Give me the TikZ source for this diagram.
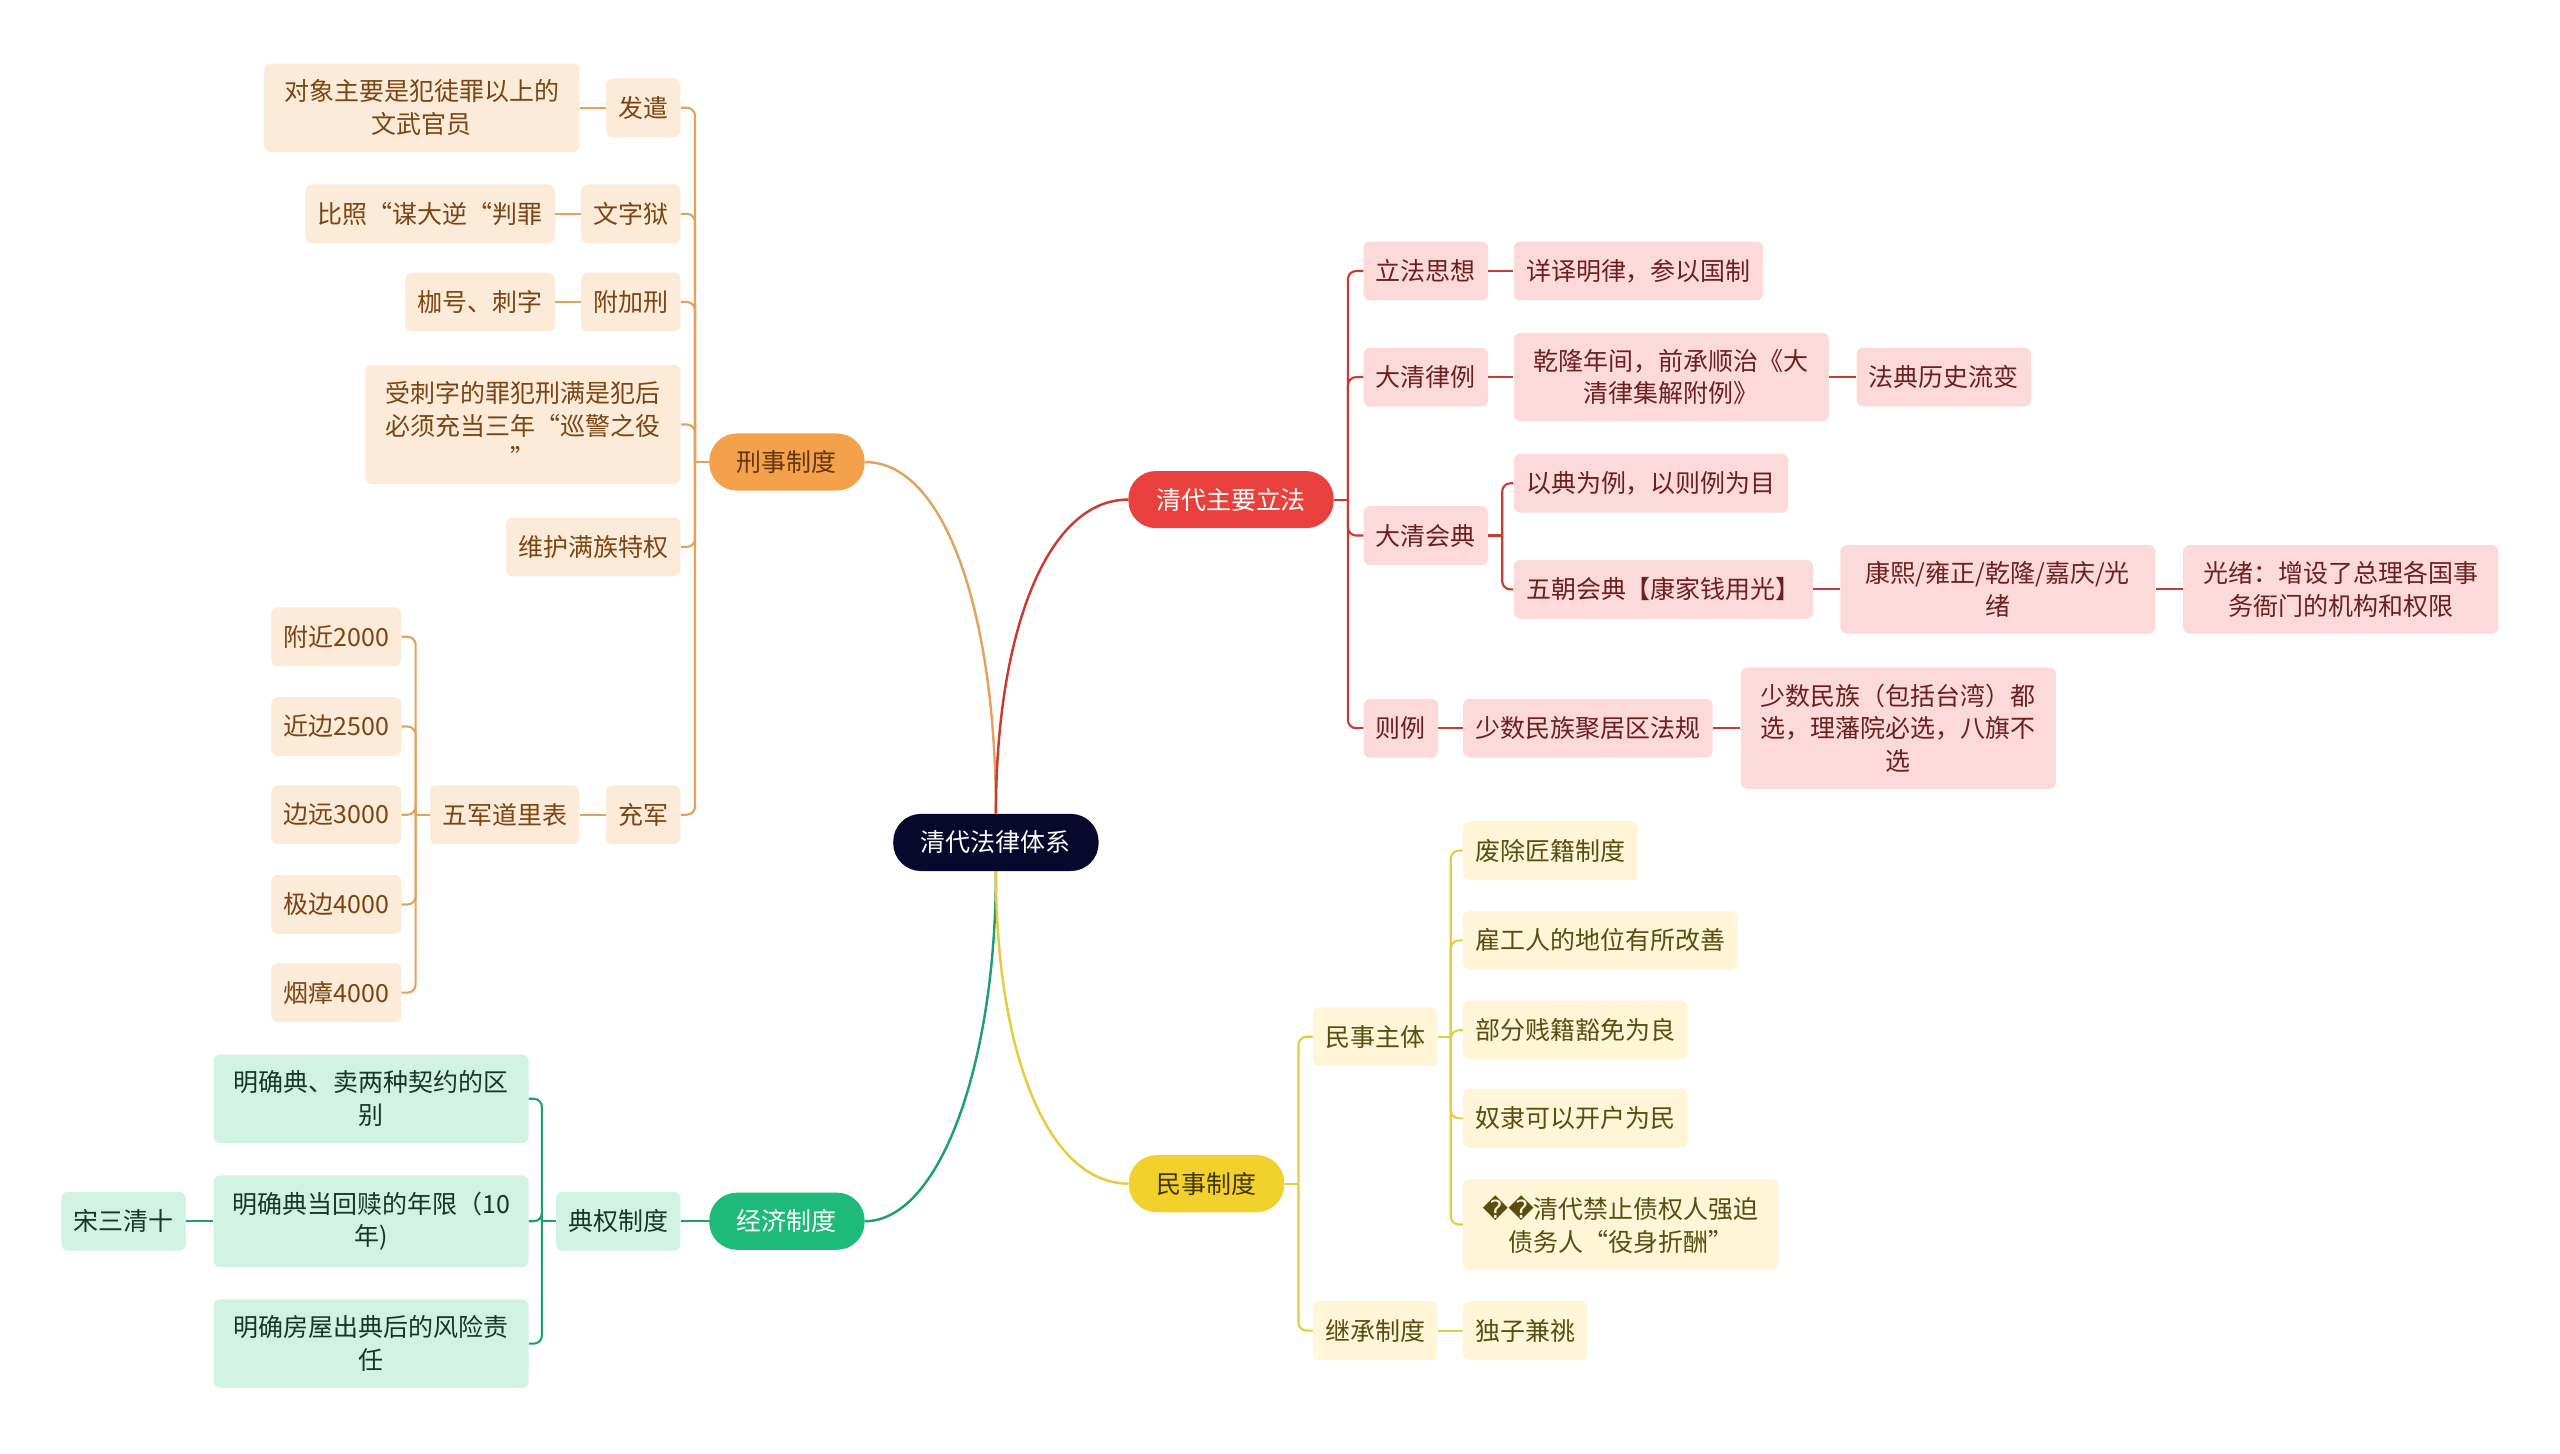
\documentclass[tikz,border=0pt]{standalone}
\usepackage{fontspec}
\setmainfont{Noto Sans CJK SC}
\newfontfamily\symfont{DejaVu Sans}
\usepackage{xcolor}
\usepackage{tikz}
\usetikzlibrary{positioning}

\definecolor{rootbg}{HTML}{08072C}
\definecolor{xsmain}{HTML}{F3A24B}
\definecolor{xsline}{HTML}{E6A25C}
\definecolor{xsfill}{HTML}{FDEBDA}
\definecolor{xstext}{HTML}{7A4512}
\definecolor{lfmain}{HTML}{E8413D}
\definecolor{lfline}{HTML}{C93A33}
\definecolor{lffill}{HTML}{FDDADA}
\definecolor{lftext}{HTML}{6A2020}
\definecolor{msmain}{HTML}{F2D12C}
\definecolor{msline}{HTML}{E9CB3C}
\definecolor{msfill}{HTML}{FEF6D6}
\definecolor{mstext}{HTML}{5A4C12}
\definecolor{jjmain}{HTML}{1DBA7A}
\definecolor{jjline}{HTML}{1E9F6B}
\definecolor{jjfill}{HTML}{D2F2E4}
\definecolor{jjtext}{HTML}{173627}

\newcommand{\nodefont}{\fontsize{15.3}{20}\selectfont}

\begin{document}
\begin{tikzpicture}[x=1pt,y=-1pt,every node/.style={font=\nodefont,align=center},
  leaf/.style={rounded corners=4pt,inner xsep=7.5pt,inner ysep=10pt,minimum height=36pt},
  wide/.style={minimum width=193pt},
  pill/.style={rounded corners=17pt,inner xsep=17pt,inner ysep=10pt,minimum height=35pt},
  xsleaf/.style={leaf,fill=xsfill,text=xstext},
  lfleaf/.style={leaf,fill=lffill,text=lftext},
  msleaf/.style={leaf,fill=msfill,text=mstext},
  jjleaf/.style={leaf,fill=jjfill,text=jjtext},
  xsedge/.style={draw=xsline,line width=1.3pt,rounded corners=5pt},
  lfedge/.style={draw=lfline,line width=1.3pt,rounded corners=5pt},
  msedge/.style={draw=msline,line width=1.3pt,rounded corners=5pt},
  jjedge/.style={draw=jjline,line width=1.3pt,rounded corners=5pt}]

\useasboundingbox[fill=white] (0,0) rectangle (1568,890);

% Root and main branches
\node[pill,fill=rootbg,text=white] (root) at (610,516) {清代法律体系};
\node[pill,fill=xsmain,text=xstext!80!black] (xs) at (482,283) {刑事制度};
\node[pill,fill=lfmain,text=white] (lf) at (754,306) {清代主要立法};
\node[pill,fill=jjmain,text=white] (jj) at (482,748) {经济制度};
\node[pill,fill=msmain,text=mstext!70!black] (ms) at (739,725) {民事制度};

\draw[xsline,line width=1.5pt] (root.north) .. controls +(0,-120) and +(50,0) .. (xs.east);
\draw[lfline,line width=1.5pt] (root.north) .. controls +(0,-110) and +(-50,0) .. (lf.west);
\draw[jjline,line width=1.5pt] (root.south) .. controls +(0,120) and +(45,0) .. (jj.east);
\draw[msline,line width=1.5pt] (root.south) .. controls +(0,110) and +(-50,0) .. (ms.west);

% 刑事制度
\node[xsleaf,anchor=east] (fq) at (417,66) {发遣};
\node[xsleaf,wide,anchor=east] (fqa) at (355,66) {对象主要是犯徒罪以上的\\文武官员};
\node[xsleaf,anchor=east] (wzy) at (417,131) {文字狱};
\node[xsleaf,anchor=east] (wzya) at (340,131) {比照“谋大逆“判罪};
\node[xsleaf,anchor=east] (fjx) at (417,185) {附加刑};
\node[xsleaf,anchor=east] (fjxa) at (340,185) {枷号、刺字};
\node[xsleaf,wide,anchor=east] (csz) at (417,260) {受刺字的罪犯刑满是犯后\\必须充当三年“巡警之役\\”};
\node[xsleaf,anchor=east] (whmz) at (417,335) {维护满族特权};
\node[xsleaf,anchor=east] (cj) at (417,499) {充军};
\node[xsleaf,anchor=east] (wjdl) at (355,499) {五军道里表};
\node[xsleaf,anchor=east] (lc1) at (246,390) {附近2000};
\node[xsleaf,anchor=east] (lc2) at (246,445) {近边2500};
\node[xsleaf,anchor=east] (lc3) at (246,499) {边远3000};
\node[xsleaf,anchor=east] (lc4) at (246,554) {极边4000};
\node[xsleaf,anchor=east] (lc5) at (246,608) {烟瘴4000};

\coordinate (xsj) at ([xshift=-8.5pt]xs.west);
\coordinate (wjj) at ([xshift=-8.5pt]wjdl.west);
\draw[xsedge] (xs.west) -- (xsj);
\draw[xsedge] (wjdl.west) -- (wjj);
\foreach \n in {fq,wzy,fjx,csz,whmz,cj}
  \draw[xsedge] (xsj) |- (\n.east);
\foreach \n in {lc1,lc2,lc3,lc4,lc5}
  \draw[xsedge] (wjj) |- (\n.east);
\draw[xsedge] (fq.west) -- (fqa.east);
\draw[xsedge] (wzy.west) -- (wzya.east);
\draw[xsedge] (fjx.west) -- (fjxa.east);
\draw[xsedge] (cj.west) -- (wjdl.east);

% 经济制度
\node[jjleaf,anchor=east] (dq) at (417,748) {典权制度};
\node[jjleaf,wide,anchor=east] (dqa) at (324,673) {明确典、卖两种契约的区\\别};
\node[jjleaf,wide,anchor=east] (dqb) at (324,748) {明确典当回赎的年限（10\\年)};
\node[jjleaf,wide,anchor=east] (dqc) at (324,823) {明确房屋出典后的风险责\\任};
\node[jjleaf,anchor=east] (sq) at (114,748) {宋三清十};

\coordinate (dqj) at ([xshift=-8.5pt]dq.west);
\draw[jjedge] (jj.west) -- (dq.east);
\draw[jjedge] (dq.west) -- (dqj);
\foreach \n in {dqa,dqb,dqc}
  \draw[jjedge] (dqj) |- (\n.east);
\draw[jjedge] (dqb.west) -- (sq.east);

% 清代主要立法
\node[lfleaf,anchor=west] (lfsx) at (835,166) {立法思想};
\node[lfleaf,anchor=west] (lfsxa) at (927,166) {详译明律，参以国制};
\node[lfleaf,anchor=west] (dqll) at (835,231) {大清律例};
\node[lfleaf,wide,anchor=west] (dqlla) at (927,231) {乾隆年间，前承顺治《大\\清律集解附例》};
\node[lfleaf,anchor=west] (dqllb) at (1137,231) {法典历史流变};
\node[lfleaf,anchor=west] (dqhd) at (835,328) {大清会典};
\node[lfleaf,anchor=west] (hda) at (927,296) {以典为例，以则例为目};
\node[lfleaf,anchor=west] (hdb) at (927,361) {五朝会典【康家钱用光】};
\node[lfleaf,wide,anchor=west] (hdc) at (1127,361) {康熙/雍正/乾隆/嘉庆/光\\绪};
\node[lfleaf,wide,anchor=west] (hdd) at (1337,361) {光绪：增设了总理各国事\\务衙门的机构和权限};
\node[lfleaf,anchor=west] (zl) at (835,446) {则例};
\node[lfleaf,anchor=west] (zla) at (896,446) {少数民族聚居区法规};
\node[lfleaf,wide,anchor=west] (zlb) at (1066,446) {少数民族（包括台湾）都\\选，理藩院必选，八旗不\\选};

\coordinate (lfj) at ([xshift=8.5pt]lf.east);
\coordinate (hdj) at ([xshift=8.5pt]dqhd.east);
\draw[lfedge] (lf.east) -- (lfj);
\draw[lfedge] (dqhd.east) -- (hdj);
\foreach \n in {lfsx,dqll,dqhd,zl}
  \draw[lfedge] (lfj) |- (\n.west);
\foreach \n in {hda,hdb}
  \draw[lfedge] (hdj) |- (\n.west);
\draw[lfedge] (lfsx.east) -- (lfsxa.west);
\draw[lfedge] (dqll.east) -- (dqlla.west);
\draw[lfedge] (dqlla.east) -- (dqllb.west);
\draw[lfedge] (hdb.east) -- (hdc.west);
\draw[lfedge] (hdc.east) -- (hdd.west);
\draw[lfedge] (zl.east) -- (zla.west);
\draw[lfedge] (zla.east) -- (zlb.west);

% 民事制度
\node[msleaf,anchor=west] (mszt) at (804,635) {民事主体};
\node[msleaf,anchor=west] (jc) at (804,815) {继承制度};
\node[msleaf,anchor=west] (zt1) at (896,521) {废除匠籍制度};
\node[msleaf,anchor=west] (zt2) at (896,576) {雇工人的地位有所改善};
\node[msleaf,anchor=west] (zt3) at (896,631) {部分贱籍豁免为良};
\node[msleaf,anchor=west] (zt4) at (896,685) {奴隶可以开户为民};
\node[msleaf,wide,anchor=west] (zt5) at (896,750) {{\symfont\char"FFFD\char"FFFD}清代禁止债权人强迫\\债务人“役身折酬”};
\node[msleaf,anchor=west] (jca) at (896,815) {独子兼祧};

\coordinate (msj) at ([xshift=8.5pt]ms.east);
\coordinate (ztj) at ([xshift=8pt]mszt.east);
\draw[msedge] (ms.east) -- (msj);
\draw[msedge] (mszt.east) -- (ztj);
\foreach \n in {mszt,jc}
  \draw[msedge] (msj) |- (\n.west);
\foreach \n in {zt1,zt2,zt3,zt4,zt5}
  \draw[msedge] (ztj) |- (\n.west);
\draw[msedge] (jc.east) -- (jca.west);

\end{tikzpicture}
\end{document}
